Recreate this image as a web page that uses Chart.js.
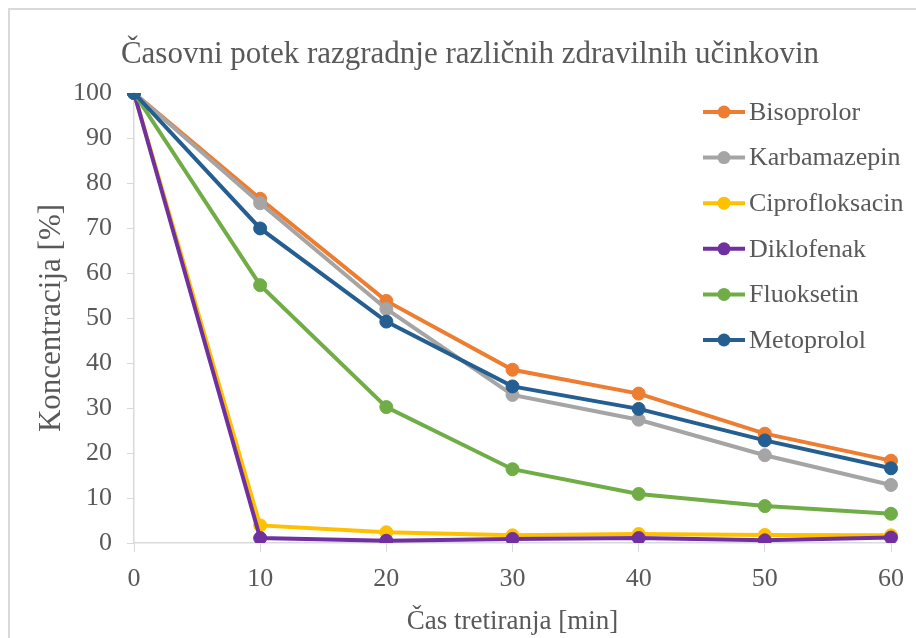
<!DOCTYPE html>
<html>
<head>
<meta charset="utf-8">
<script src="https://cdn.jsdelivr.net/npm/chart.js@4.4.1/dist/chart.umd.min.js"></script>
<style>
  html, body { margin: 0; padding: 0; background: #fff; }
  #wrap { width: 916px; height: 638px; }
</style>
</head>
<body>
<div id="wrap"><canvas id="degChart" width="916" height="638"></canvas></div>
<script>
// time points [min]
const times = [0, 10, 20, 30, 40, 50, 60];

// concentration [%] per compound
const bisoprolor     = [100, 76.5, 53.8, 38.5, 33.2, 24.3, 18.3];
const karbamazepin   = [100, 75.5, 52.0, 32.9, 27.4, 19.5, 12.9];
const ciprofloksacin = [100, 3.9, 2.4, 1.7, 2.0, 1.8, 1.7];
const diklofenak     = [100, 1.1, 0.5, 0.9, 1.1, 0.6, 1.2];
const fluoksetin     = [100, 57.3, 30.2, 16.4, 10.9, 8.2, 6.5];
const metoprolol     = [100, 69.9, 49.2, 34.8, 29.8, 22.8, 16.6];

const seriesNames = ['Bisoprolor', 'Karbamazepin', 'Ciprofloksacin', 'Diklofenak', 'Fluoksetin', 'Metoprolol'];
const seriesData = [bisoprolor, karbamazepin, ciprofloksacin, diklofenak, fluoksetin, metoprolol];
const seriesColors = ['#ED7D31', '#A5A5A5', '#FFC000', '#7030A0', '#70AD47', '#255E91'];

const FONT = '"Liberation Serif", "Times New Roman", serif';
const TEXT = '#595959';
const AXIS = '#d9d9d9';

// frame around the whole chart + centred title
const framePlugin = {
  id: 'frame',
  beforeDraw(chart) {
    const ctx = chart.ctx;
    ctx.save();
    ctx.strokeStyle = AXIS;
    ctx.lineWidth = 2;
    ctx.strokeRect(9, 9, 1000, 1000);
    ctx.fillStyle = TEXT;
    ctx.font = '31px ' + FONT;
    ctx.textAlign = 'center';
    ctx.textBaseline = 'middle';
    ctx.fillText('Časovni potek razgradnje različnih zdravilnih učinkovin', 470, 55);
    ctx.restore();
  }
};

// legend inside the plot, upper right
const legendPlugin = {
  id: 'sideLegend',
  afterDraw(chart) {
    const ctx = chart.ctx;
    ctx.save();
    ctx.font = '26px ' + FONT;
    ctx.textBaseline = 'middle';
    ctx.textAlign = 'left';
    chart.data.datasets.forEach((ds, i) => {
      const y = 112 + i * 45.6;
      ctx.strokeStyle = ds.borderColor;
      ctx.lineWidth = 4;
      ctx.beginPath();
      ctx.moveTo(703, y);
      ctx.lineTo(745, y);
      ctx.stroke();
      ctx.fillStyle = ds.borderColor;
      ctx.beginPath();
      ctx.arc(724, y, 6.5, 0, Math.PI * 2);
      ctx.fill();
      ctx.fillStyle = TEXT;
      ctx.fillText(ds.label, 749, y + 1);
    });
    ctx.restore();
  }
};

const ctxDeg = document.getElementById('degChart').getContext('2d');
const degChart = new Chart(ctxDeg, {
  type: 'line',
  data: {
    labels: times,
    datasets: seriesNames.map((name, i) => ({
      label: name,
      data: seriesData[i],
      borderColor: seriesColors[i],
      backgroundColor: seriesColors[i],
      pointBackgroundColor: seriesColors[i],
      pointBorderColor: seriesColors[i],
      borderWidth: 4,
      pointRadius: 6.5,
      pointBorderWidth: 1,
      tension: 0,
      order: seriesNames.length - i
    }))
  },
  options: {
    responsive: false,
    animation: false,
    layout: { padding: { left: 0, right: 23, top: 93, bottom: 0 } },
    plugins: {
      legend: { display: false },
      title: { display: false },
      tooltip: { enabled: false }
    },
    scales: {
      x: {
        type: 'category',
        offset: false,
        grid: { drawOnChartArea: false, drawTicks: true, tickLength: 9, color: AXIS },
        border: { display: true, color: AXIS, width: 1.5 },
        ticks: { color: TEXT, font: { family: FONT, size: 26 }, padding: 12, maxRotation: 0 },
        title: { display: true, text: 'Čas tretiranja [min]', color: TEXT, font: { family: FONT, size: 27 }, padding: { top: 0, bottom: 0 } },
        afterFit(scale) { scale.height = 95; }
      },
      y: {
        min: 0,
        max: 100,
        grid: { drawOnChartArea: false, drawTicks: true, tickLength: 7, color: AXIS },
        border: { display: true, color: AXIS, width: 1.5 },
        ticks: { stepSize: 10, color: TEXT, font: { family: FONT, size: 26 }, padding: 15 },
        title: { display: true, text: 'Koncentracija [%]', color: TEXT, font: { family: FONT, size: 31 }, padding: { top: 33, bottom: 0 } },
        afterFit(scale) { scale.width = 134; }
      }
    }
  },
  plugins: [framePlugin, legendPlugin]
});
</script>
</body>
</html>
